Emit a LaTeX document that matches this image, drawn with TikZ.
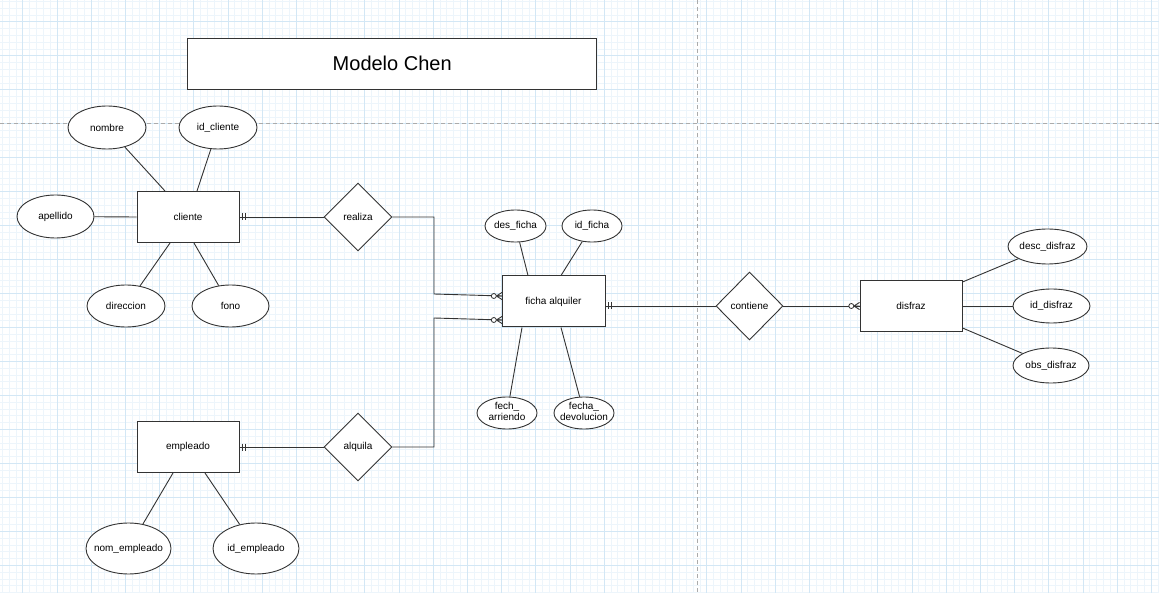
\documentclass[tikz,border=0pt]{standalone}
\usepackage{fontspec}
\setmainfont{Liberation Sans}
\usetikzlibrary{shapes.geometric}
\definecolor{gminor}{HTML}{EDF5FB}
\definecolor{gmajor}{HTML}{D3E7F5}
\definecolor{pagebrk}{HTML}{ABABAB}
\definecolor{ink}{HTML}{333333}
\newcommand{\zb}[1]{\makebox[0pt][c]{#1}}
\newcommand{\twoln}[2]{\makebox[0pt][c]{\begin{tabular}{@{}c@{}}#1\\#2\end{tabular}}}
\begin{document}
\begin{tikzpicture}[x=1pt,y=-1pt,
  lbl/.style={font=\fontsize{10}{11}\selectfont, text=black, align=center},
  ent/.style={draw=ink, line width=1pt, fill=white, rectangle, minimum width=102pt, minimum height=51pt, inner sep=0pt, lbl},
  attr/.style 2 args={draw=ink, line width=0.9pt, fill=white, ellipse, inner sep=0pt, minimum width=#1, minimum height=#2, lbl},
  rel/.style={draw=ink, line width=0.9pt, fill=white, diamond, minimum width=68pt, minimum height=68pt, inner sep=0pt, lbl},
  conn/.style={draw=ink, line width=0.9pt},
  onebar/.pic={\draw[conn] (3,-3.5)--(3,3.5) (6,-3.5)--(6,3.5);},
  zeromany/.pic={\draw[conn] (-5.5,0)--(0,-3.6) (-5.5,0)--(0,3.6) (-5.5,0)--(0,0);
                 \draw[conn,line width=0.8pt,fill=white] (-8.2,0) circle[radius=2.5pt];}
]
\useasboundingbox (0,0) rectangle (1159,593);
\fill[white] (0,0) rectangle (1159,593);
% grid
\begin{scope}
\clip (0,0) rectangle (1159,593);
\foreach \i in {-4,...,167} \draw[gminor,line width=0.6pt] ({22.7+6.84*\i},0) -- ({22.7+6.84*\i},593);
\foreach \j in {-4,...,85} \draw[gminor,line width=0.6pt] (0,{21.7+6.794*\j}) -- (1159,{21.7+6.794*\j});
\foreach \i in {-1,...,34} \draw[gmajor,line width=0.8pt] ({22.7+34.2*\i},0) -- ({22.7+34.2*\i},593);
\foreach \j in {-1,...,17} \draw[gmajor,line width=0.8pt] (0,{21.7+33.97*\j}) -- (1159,{21.7+33.97*\j});
\draw[pagebrk,line width=0.8pt,dash pattern=on 4pt off 3pt] (697,0) -- (697,593);
\draw[pagebrk,line width=0.8pt,dash pattern=on 4pt off 3pt] (0,123.3) -- (1159,123.3);
\end{scope}

% title
\node[draw=ink, line width=1pt, fill=white, minimum width=409pt, minimum height=51pt, inner sep=0pt,
      font=\fontsize{20}{24}\selectfont] (title) at (392.2,63.8) {Modelo Chen};

% entities
\node[ent] (cliente) at (188,217) {cliente};
\node[ent] (empleado) at (188,447) {empleado};
\node[ent, minimum width=103pt] (ficha) at (553.5,301.5) {ficha alquiler};
\node[ent] (disfraz) at (911,306) {disfraz};

% relationships
\node[rel] (realiza) at (358,217) {realiza};
\node[rel] (alquila) at (358,447) {alquila};
\node[rel, minimum width=67pt] (contiene) at (749.5,306) {contiene};

% attributes of cliente
\node[attr={78pt}{43pt}] (nombre) at (107,127.5) {\zb{nombre}};
\node[attr={78pt}{43pt}] (idcliente) at (218,127.5) {\zb{id\_cliente}};
\node[attr={77pt}{43pt}] (apellido) at (55.5,216.5) {\zb{apellido}};
\node[attr={78pt}{42pt}] (direccion) at (126,306) {\zb{direccion}};
\node[attr={77pt}{42pt}] (fono) at (230.5,306) {\zb{fono}};

% attributes of empleado
\node[attr={85pt}{51pt}] (nomemp) at (128.5,548.5) {\zb{nom\_empleado}};
\node[attr={86pt}{51pt}] (idemp) at (256,548.5) {\zb{id\_empleado}};

% attributes of ficha
\node[attr={61pt}{32pt}] (desficha) at (515.5,226) {\zb{des\_ficha}};
\node[attr={60pt}{32pt}] (idficha) at (592,226) {\zb{id\_ficha}};
\node[attr={60pt}{32pt}] (fecharr) at (507,413) {\twoln{fech\_}{arriendo}};
\node[attr={60pt}{32pt}] (fechdev) at (584,413) {\twoln{fecha\_}{devolucion}};

% attributes of disfraz
\node[attr={79pt}{35pt}] (descdis) at (1047.5,246.5) {\zb{desc\_disfraz}};
\node[attr={77pt}{34pt}] (iddis) at (1051.5,306) {\zb{id\_disfraz}};
\node[attr={76pt}{35pt}] (obsdis) at (1051,365.5) {\zb{obs\_disfraz}};

% attribute links
\draw[conn] ([xshift=-23pt]cliente.north) -- (nombre);
\draw[conn] ([xshift=9pt]cliente.north) -- (idcliente);
\draw[conn] (cliente.west) -- (apellido);
\draw[conn] ([xshift=-18pt]cliente.south) -- (direccion);
\draw[conn] ([xshift=6pt]cliente.south) -- (fono);

\draw[conn] ([xshift=-15pt]empleado.south) -- (nomemp);
\draw[conn] ([xshift=17pt]empleado.south) -- (idemp);

\draw[conn] ([xshift=-25.5pt]ficha.north) -- (desficha);
\draw[conn] ([xshift=7.5pt]ficha.north) -- (idficha);
\draw[conn] ([xshift=-31.5pt]ficha.south) -- (fecharr);
\draw[conn] ([xshift=7.5pt]ficha.south) -- (fechdev);

\draw[conn] ([yshift=-2pt]disfraz.north east) -- (descdis);
\draw[conn] (disfraz.east) -- (iddis);
\draw[conn] ([yshift=4pt]disfraz.south east) -- (obsdis);

% relationship links
\coordinate (r1) at (434,217);
\coordinate (r2) at (434,294);
\coordinate (f1) at (502,296);
\coordinate (a1) at (434,447);
\coordinate (a2) at (434,318);
\coordinate (f2) at (502,320);

\draw[conn] (cliente.east) -- (realiza.west);
\draw[conn] (realiza.east) -- (r1) -- (r2) -- (f1);
\draw[conn] (empleado.east) -- (alquila.west);
\draw[conn] (alquila.east) -- (a1) -- (a2) -- (f2);
\draw[conn] (ficha.east |- contiene.west) -- (contiene.west);
\draw[conn] (contiene.east) -- (disfraz.west);

% cardinality marks
\pic at (cliente.east) {onebar};
\pic at (empleado.east) {onebar};
\pic at (ficha.east |- contiene.west) {onebar};
\pic at (f1) {zeromany};
\pic at (f2) {zeromany};
\pic at (disfraz.west) {zeromany};
\end{tikzpicture}
\end{document}
